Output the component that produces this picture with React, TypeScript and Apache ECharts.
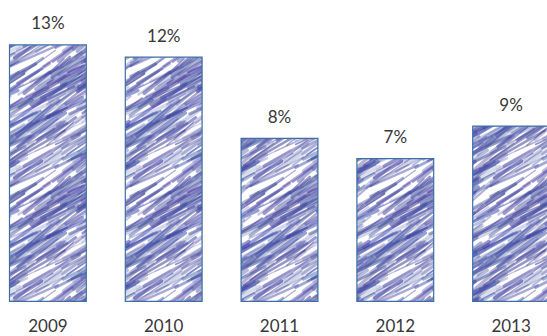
import React, { useEffect, useRef } from "react";
import * as echarts from "echarts";

const years = ["2009", "2010", "2011", "2012", "2013"];
const shares = [12.7, 12.1, 8.1, 7.1, 8.7];
const shareLabels = ["13%", "12%", "8%", "7%", "9%"];

function makeScribble(): HTMLCanvasElement {
  const W = 120;
  const H = 120;
  const c = document.createElement("canvas");
  c.width = W;
  c.height = H;
  const ctx = c.getContext("2d")!;
  ctx.fillStyle = "#ffffff";
  ctx.fillRect(0, 0, W, H);
  let s = 98765;
  const rnd = () => {
    s = (s * 1103515245 + 12345) % 2147483648;
    return s / 2147483648;
  };
  ctx.lineCap = "round";
  ctx.filter = "blur(0.6px)";
  for (let i = 0; i < 190; i++) {
    const x = rnd() * W;
    const y = rnd() * H;
    const len = 20 + rnd() * 50;
    const ang = -(0.4 + rnd() * 0.35);
    const dx = Math.cos(ang) * len;
    const dy = Math.sin(ang) * len;
    const a = 0.2 + rnd() * 0.4;
    const lw = 1.2 + rnd() * 2.8;
    ctx.strokeStyle = `rgba(${55 + Math.floor(rnd() * 30)},${65 + Math.floor(rnd() * 25)},${150 + Math.floor(rnd() * 25)},${a})`;
    ctx.lineWidth = lw;
    for (const ox of [-W, 0, W]) {
      for (const oy of [-H, 0, H]) {
        ctx.beginPath();
        ctx.moveTo(x + ox, y + oy);
        ctx.lineTo(x + dx + ox, y + dy + oy);
        ctx.stroke();
      }
    }
  }
  return c;
}

export default function App() {
  const ref = useRef<HTMLDivElement>(null);
  useEffect(() => {
    const chart = echarts.init(ref.current!, undefined, { renderer: "svg" });
    const pattern = makeScribble();
    chart.setOption({
      animation: false,
      backgroundColor: "#ffffff",
      grid: {
        left: -10,
        width: 579,
        top: 18,
        bottom: 34,
        containLabel: false,
        outerBoundsMode: "none",
      } as any,
      xAxis: {
        type: "category",
        data: years,
        axisLine: { show: false },
        axisTick: { show: false },
        axisLabel: {
          margin: 15,
          fontSize: 17,
          color: "#383838",
          fontFamily: "Lato, 'Open Sans', sans-serif",
        },
      },
      yAxis: { type: "value", min: 0, max: 14, show: false, splitLine: { show: false } },
      series: [
        {
          type: "bar",
          data: shares,
          barWidth: 78,
          itemStyle: {
            color: { image: pattern, repeat: "repeat" } as any,
            borderColor: "#3d6ea6",
            borderWidth: 1.2,
          },
          label: {
            show: true,
            position: "top",
            distance: 13,
            fontSize: 17,
            color: "#383838",
            fontFamily: "Lato, 'Open Sans', sans-serif",
            formatter: (p: any) => shareLabels[p.dataIndex],
          },
        },
      ],
    });
    return () => chart.dispose();
  }, []);
  return (
    <div
      ref={ref}
      style={{ position: "fixed", left: 0, top: 0, width: 547, height: 336 }}
    />
  );
}
